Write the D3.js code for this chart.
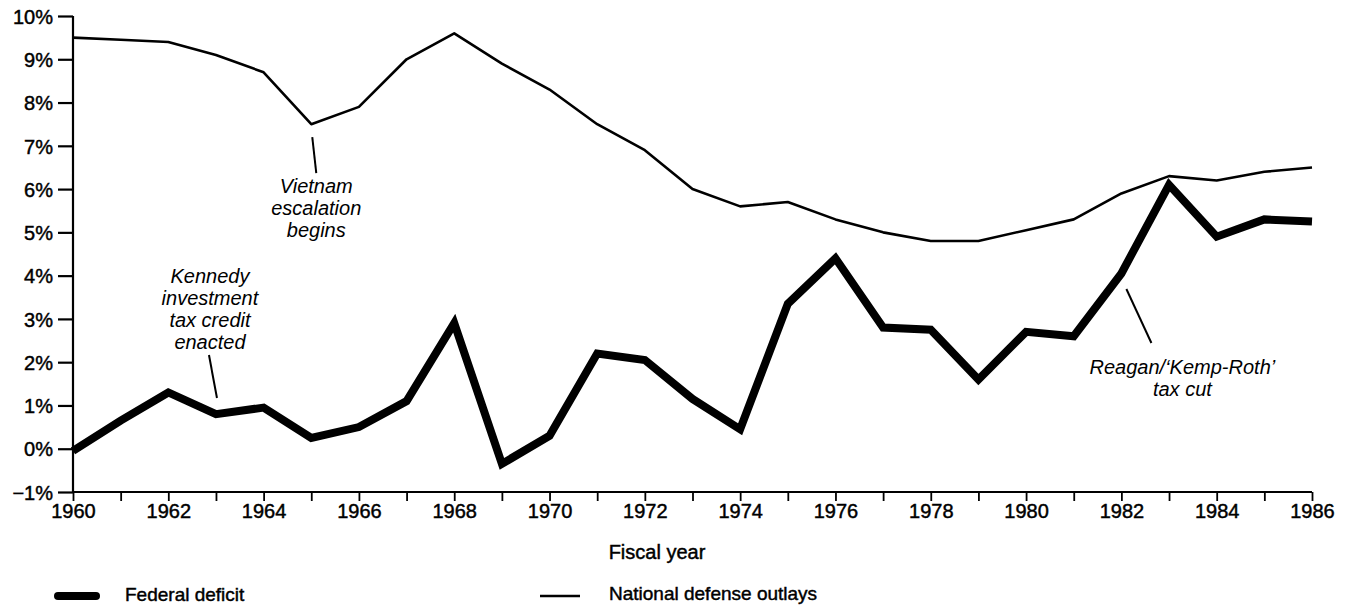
<!DOCTYPE html>
<html><head><meta charset="utf-8">
<script src="https://cdn.jsdelivr.net/npm/d3@7"></script>
<style>
body{margin:0;background:#fff;}
text{font-family:"Liberation Sans",Arial,sans-serif;fill:#000;}
</style></head>
<body><svg id="c" width="1353" height="606"></svg>
<script>
const years = d3.range(1960, 1987);
const defenseOutlays = [9.5,9.45,9.4,9.1,8.7,7.5,7.9,9.0,9.6,8.9,8.3,7.5,6.9,6.0,5.6,5.7,5.3,5.0,4.8,4.8,5.05,5.3,5.9,6.3,6.2,6.4,6.5];
const federalDeficit = [-0.05,0.65,1.3,0.8,0.95,0.25,0.5,1.1,2.9,-0.35,0.3,2.2,2.05,1.15,0.45,3.35,4.4,2.8,2.75,1.6,2.7,2.6,4.05,6.1,4.9,5.3,5.25];
const yTicks = [-1,0,1,2,3,4,5,6,7,8,9,10];
const xLabelYears = [1960,1962,1964,1966,1968,1970,1972,1974,1976,1978,1980,1982,1984,1986];
const annotations = [
  {year:1965, lines:["Vietnam","escalation","begins"]},
  {year:1963, lines:["Kennedy","investment","tax credit","enacted"]},
  {year:1982, lines:["Reagan/\u2018Kemp-Roth\u2019","tax cut"]}
];
const legendItems = ["Federal deficit","National defense outlays"];

const svg = d3.select("#c");
const x = d3.scaleLinear().domain([1960,1986]).range([73,1312]);
const y = d3.scaleLinear().domain([-1,10]).range([492,16]);
const med = s => s.style("stroke","#000").style("stroke-width","0.45px");

// y axis
const yAx = svg.append("g").attr("transform","translate(73,0)")
  .call(d3.axisLeft(y).tickValues(yTicks).tickSize(15).tickPadding(5)
    .tickFormat(d => (d<0 ? "\u2212"+Math.abs(d) : d) + "%"));
yAx.select(".domain").attr("stroke-width",2.2).attr("d","M0,492V16");
yAx.selectAll(".tick line").attr("stroke-width",2.2);
yAx.selectAll("text").style("font-size","20px").attr("dy","0.36em").call(med);

// x axis
const xAx = svg.append("g").attr("transform","translate(0,492)")
  .call(d3.axisBottom(x).tickValues(years).tickSize(9).tickPadding(3)
    .tickFormat(d => xLabelYears.includes(d) ? d : ""));
xAx.select(".domain").attr("stroke-width",2.2).attr("d","M73,0H1312");
xAx.selectAll(".tick line").attr("stroke-width",1.8);
xAx.selectAll("text").style("font-size","20px").call(med);

svg.append("text").attr("x",657).attr("y",559).attr("text-anchor","middle")
  .style("font-size","20px").text("Fiscal year").call(med);

const line = d3.line().x((d,i)=>x(years[i])).y(d=>y(d));
svg.append("path").datum(defenseOutlays).attr("d",line)
  .attr("fill","none").attr("stroke","#000").attr("stroke-width",2.6).attr("stroke-linejoin","round");
svg.append("path").datum(federalDeficit).attr("d",line)
  .attr("fill","none").attr("stroke","#000").attr("stroke-width",8).attr("stroke-linejoin","miter").attr("stroke-miterlimit",3);

// annotations
function annot(a, cx, y0, lx1, ly1, lx2, ly2){
  const t = svg.append("text").attr("text-anchor","middle").style("font-size","20px").style("font-style","italic");
  a.lines.forEach((s,i)=>t.append("tspan").attr("x",cx).attr("y",y0+i*22).text(s));
  svg.append("line").attr("x1",lx1).attr("y1",ly1).attr("x2",lx2).attr("y2",ly2)
    .attr("stroke","#000").attr("stroke-width",2);
}
const vx = x(annotations[0].year), kx = x(annotations[1].year), rx = x(annotations[2].year);
annot(annotations[0], vx+5, 193, vx+1, y(7.5)+13, vx+5, y(7.5)+49);
annot(annotations[1], kx-6, 283, kx-7, 355, kx+1, 398);
annot(annotations[2], rx+61, 374, rx+5, 289, rx+30, 343);

// legend
svg.append("line").attr("x1",58).attr("x2",96).attr("y1",596).attr("y2",596)
  .attr("stroke","#000").attr("stroke-width",8).attr("stroke-linecap","round");
svg.append("text").attr("x",125).attr("y",601).style("font-size","19px").text(legendItems[0]).call(med);
svg.append("line").attr("x1",540).attr("x2",580).attr("y1",596).attr("y2",596)
  .attr("stroke","#000").attr("stroke-width",2.6);
svg.append("text").attr("x",609).attr("y",600).style("font-size","19px").text(legendItems[1]).call(med);
</script></body></html>
